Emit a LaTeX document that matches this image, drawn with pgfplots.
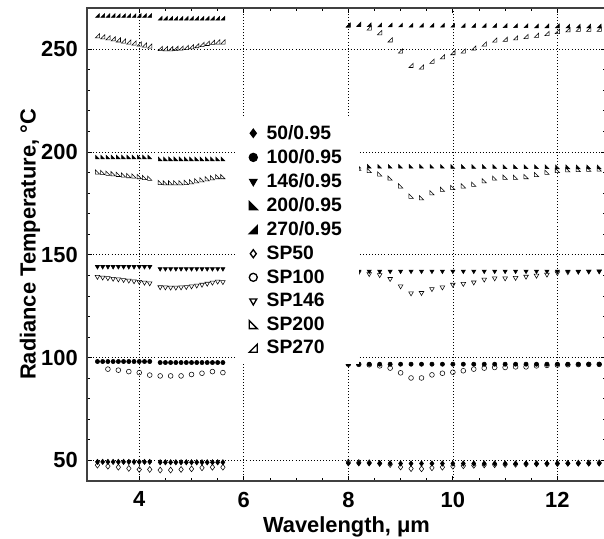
\documentclass[border=0pt]{standalone}
\usepackage{fontspec}
\setmainfont{Liberation Sans}
\usepackage{pgfplots}
\usepackage{pgfplotstable}
\pgfplotsset{compat=1.18}

\pgfdeclareplotmark{bl*}{%
 \pgfpathmoveto{\pgfqpoint{-\pgfplotmarksize}{-\pgfplotmarksize}}%
 \pgfpathlineto{\pgfqpoint{\pgfplotmarksize}{-\pgfplotmarksize}}%
 \pgfpathlineto{\pgfqpoint{-\pgfplotmarksize}{\pgfplotmarksize}}%
 \pgfpathclose\pgfusepathqfillstroke}
\pgfdeclareplotmark{bl}{%
 \pgfpathmoveto{\pgfqpoint{-\pgfplotmarksize}{-\pgfplotmarksize}}%
 \pgfpathlineto{\pgfqpoint{\pgfplotmarksize}{-\pgfplotmarksize}}%
 \pgfpathlineto{\pgfqpoint{-\pgfplotmarksize}{\pgfplotmarksize}}%
 \pgfpathclose\pgfusepathqstroke}
\pgfdeclareplotmark{br*}{%
 \pgfpathmoveto{\pgfqpoint{-\pgfplotmarksize}{-\pgfplotmarksize}}%
 \pgfpathlineto{\pgfqpoint{\pgfplotmarksize}{-\pgfplotmarksize}}%
 \pgfpathlineto{\pgfqpoint{\pgfplotmarksize}{\pgfplotmarksize}}%
 \pgfpathclose\pgfusepathqfillstroke}
\pgfdeclareplotmark{br}{%
 \pgfpathmoveto{\pgfqpoint{-\pgfplotmarksize}{-\pgfplotmarksize}}%
 \pgfpathlineto{\pgfqpoint{\pgfplotmarksize}{-\pgfplotmarksize}}%
 \pgfpathlineto{\pgfqpoint{\pgfplotmarksize}{\pgfplotmarksize}}%
 \pgfpathclose\pgfusepathqstroke}

% left region, 0.1 um step
\pgfplotstableread{
x   f50  f100  f146  f200  f270  s146  s200  s270
3.2 49.3 98.1 144.2 197.5 266.3 139.3 190.3 256.5
3.3 49.3 98.1 144.2 197.5 266.3 139.0 190.0 256.0
3.4 49.3 98.1 144.2 197.5 266.3 138.7 189.7 255.5
3.5 49.3 98.1 144.2 197.5 266.3 138.4 189.4 255.0
3.6 49.3 98.1 144.2 197.5 266.3 138.1 189.1 254.5
3.7 49.3 98.1 144.2 197.5 266.3 137.8 188.8 254.0
3.8 49.3 98.1 144.2 197.5 266.3 137.5 188.5 253.5
3.9 49.3 98.1 144.2 197.5 266.3 137.2 188.3 253.0
4.0 49.3 98.1 144.2 197.5 266.3 136.9 188.0 252.5
4.1 49.3 98.1 144.2 197.5 266.3 136.5 187.6 252.0
4.2 49.3 98.1 144.2 197.5 266.3 136.2 187.2 251.5
4.4 49.1 97.6 143.2 196.6 265.0 134.3 185.2 250.3
4.5 49.1 97.6 143.2 196.6 265.0 134.2 185.0 250.2
4.6 49.1 97.6 143.2 196.6 265.0 134.1 185.0 250.2
4.7 49.1 97.6 143.2 196.6 265.0 134.1 185.0 250.3
4.8 49.1 97.6 143.2 196.6 265.0 134.2 185.0 250.5
4.9 49.1 97.6 143.2 196.6 265.0 134.4 185.2 250.8
5.0 49.1 97.6 143.2 196.6 265.0 134.7 185.5 251.2
5.1 49.1 97.6 143.2 196.6 265.0 135.1 186.0 251.7
5.2 49.1 97.6 143.2 196.6 265.0 135.5 186.5 252.3
5.3 49.1 97.6 143.2 196.6 265.0 136.0 187.0 252.8
5.4 49.1 97.6 143.2 196.6 265.0 136.5 187.5 253.3
5.5 49.1 97.6 143.2 196.6 265.0 137.0 188.0 253.5
5.6 49.1 97.6 143.2 196.6 265.0 136.8 188.0 253.5
}\leftfine

% left region, 0.2 um step
\pgfplotstableread{
x   s50  s100
3.2 47.7 nan
3.4 47.2 94.4
3.6 46.7 93.9
3.8 46.1 93.2
4.0 45.6 92.7
4.2 45.6 91.5
4.4 45.3 91.1
4.6 45.3 91.1
4.8 45.6 91.1
5.0 45.9 91.8
5.2 46.4 92.4
5.4 46.7 93.2
5.6 46.7 92.7
}\leftcoarse

% right region
\pgfplotstableread{
x    f50  s50  f100 s100 f146  s146  f200  s200  f270  s270
8.0  48.6 49.2 96.8 96.8 142.0 142.0 193.0 193.0 261.8 261.6
8.2  48.6 49.0 96.8 96.7 142.0 141.5 193.0 192.1 261.8 262.1
8.4  48.6 48.9 96.8 96.5 142.0 140.7 193.0 191.0 261.8 260.3
8.6  48.6 48.5 96.8 96.0 142.0 140.2 193.0 189.3 261.7 258.0
8.8  48.6 48.0 96.8 94.9 142.0 138.3 193.0 187.3 261.7 254.5
9.0  48.5 46.8 96.8 92.6 142.0 134.7 193.0 183.5 261.7 249.1
9.2  48.5 46.0 96.8 90.1 142.0 131.3 193.0 178.5 261.6 242.1
9.4  48.5 45.9 96.8 90.1 142.0 131.5 193.0 177.7 261.6 241.3
9.6  48.5 46.4 96.8 91.6 142.0 133.4 193.0 180.2 261.6 244.1
9.8  48.5 46.7 96.8 92.4 142.0 134.2 193.0 181.9 261.6 246.3
10.0 48.5 47.2 96.8 92.9 142.0 135.5 192.9 182.7 261.6 248.3
10.2 48.5 47.4 96.8 93.6 142.0 135.9 192.9 183.5 261.5 249.1
10.4 48.5 47.6 96.8 94.4 142.0 136.6 192.9 184.3 261.5 250.5
10.6 48.5 47.8 96.8 94.9 142.0 138.0 192.9 186.0 261.5 252.5
10.8 48.5 47.9 96.8 95.2 142.0 138.6 192.9 187.3 261.5 254.4
11.0 48.5 48.0 96.8 95.2 142.0 138.6 192.8 187.7 261.4 254.8
11.2 48.5 48.1 96.8 95.5 142.0 138.8 192.8 187.7 261.4 255.5
11.4 48.5 48.2 96.8 95.5 142.0 139.4 192.8 188.0 261.4 256.1
11.6 48.5 48.3 96.8 96.0 142.0 139.9 192.8 189.0 261.3 256.7
11.8 48.5 48.4 96.8 96.2 142.0 140.4 192.8 190.1 261.3 257.6
12.0 48.5 48.5 96.8 96.4 142.0 141.2 192.7 191.0 261.3 258.6
12.2 48.5 48.6 96.8 96.5 142.0 141.6 192.7 191.3 261.2 259.4
12.4 48.5 48.7 96.8 96.6 142.0 141.8 192.7 191.5 261.2 259.7
12.6 48.5 48.8 96.8 96.7 142.0 141.9 192.7 191.6 261.2 259.7
12.8 48.5 48.9 96.8 96.7 142.0 142.0 192.7 191.7 261.2 259.7
}\rightdata

\begin{document}
\begin{tikzpicture}
\begin{axis}[
  scale only axis,
  width=389.25pt, height=354.75pt,
  xmin=3, xmax=12.93, ymin=40, ymax=270,
  xtick={4,6,8,10,12}, ytick={50,100,150,200,250},
  minor x tick num=3, minor y tick num=4,
  tick align=inside,
  major tick length=4pt, minor tick length=2.5pt,
  tick style={black, line width=0.6pt},
  axis line style={black!75, line width=0.9pt},
  grid=major,
  major grid style={black, line width=0.5pt, dash pattern=on 0.7pt off 1.6pt},
  /pgf/number format/assume math mode=true,
  tick label style={font=\bfseries\fontsize{16.4}{19}\selectfont},
  yticklabel style={inner sep=0pt, anchor=east, xshift=-6.75pt},
  xticklabel style={inner sep=0pt, anchor=north, yshift=-8pt},
  every axis x label/.style={at={(axis description cs:0.5,0)}, anchor=base, yshift=-39pt},
  every axis y label/.style={at={([xshift=-38.5pt]axis description cs:0,0.5)}, rotate=90, anchor=base},
  label style={font=\bfseries\fontsize{16.4}{19}\selectfont},
  xlabel={Wavelength, μm},
  ylabel={Radiance Temperature, °C},
  only marks,
  legend cell align=left,
  legend style={at={(axis description cs:0.2852,0.7696)}, anchor=north west,
    draw=none, fill=white, font=\bfseries\fontsize{14.5}{17}\selectfont,
    row sep=2.1pt, inner xsep=10.5pt, inner ysep=4pt,
    /tikz/every odd column/.append style={column sep=5pt}},
  legend image post style={mark size=3pt, line width=1pt},
]
% filled (emissivity 0.95)
\addplot[black, mark=diamond*, mark size=2pt] table[x=x,y=f50]{\leftfine};
\addlegendentry{50/0.95}
\addplot[black, mark=*, mark size=1.6pt] table[x=x,y=f100]{\leftfine};
\addlegendentry{100/0.95}
\addplot[black, mark=triangle*, mark size=1.8pt, mark options={rotate=180}] table[x=x,y=f146]{\leftfine};
\addlegendentry{146/0.95}
\addplot[black, mark=bl*, mark size=1.4pt] table[x=x,y=f200]{\leftfine};
\addlegendentry{200/0.95}
\addplot[black, mark=br*, mark size=1.4pt] table[x=x,y=f270]{\leftfine};
\addlegendentry{270/0.95}
% spectropyrometer
\addplot[black, mark=diamond, mark size=2.2pt, line width=0.4pt] table[x=x,y=s50]{\leftcoarse};
\addlegendentry{SP50}
\addplot[black, mark=o, mark size=1.8pt, line width=0.4pt] table[x=x,y=s100]{\leftcoarse};
\addlegendentry{SP100}
\addplot[black, mark=triangle, mark size=2pt, line width=0.4pt, mark options={rotate=180}] table[x=x,y=s146]{\leftfine};
\addlegendentry{SP146}
\addplot[black, mark=bl, mark size=1.6pt, line width=0.4pt] table[x=x,y=s200]{\leftfine};
\addlegendentry{SP200}
\addplot[black, mark=br, mark size=1.6pt, line width=0.4pt] table[x=x,y=s270]{\leftfine};
\addlegendentry{SP270}
% right region (same series)
\addplot[forget plot, black, mark=diamond*, mark size=2pt] table[x=x,y=f50]{\rightdata};
\addplot[forget plot, black, mark=*, mark size=1.6pt] table[x=x,y=f100]{\rightdata};
\addplot[forget plot, black, mark=triangle*, mark size=1.8pt, mark options={rotate=180}] table[x=x,y=f146]{\rightdata};
\addplot[forget plot, black, mark=bl*, mark size=1.4pt] table[x=x,y=f200]{\rightdata};
\addplot[forget plot, black, mark=br*, mark size=1.4pt] table[x=x,y=f270]{\rightdata};
\addplot[forget plot, black, mark=diamond, mark size=2.2pt, line width=0.4pt] table[x=x,y=s50]{\rightdata};
\addplot[forget plot, black, mark=o, mark size=1.8pt, line width=0.4pt] table[x=x,y=s100]{\rightdata};
\addplot[forget plot, black, mark=triangle, mark size=2pt, line width=0.4pt, mark options={rotate=180}] table[x=x,y=s146]{\rightdata};
\addplot[forget plot, black, mark=bl, mark size=1.6pt, line width=0.4pt] table[x=x,y=s200]{\rightdata};
\addplot[forget plot, black, mark=br, mark size=1.6pt, line width=0.4pt] table[x=x,y=s270]{\rightdata};
\end{axis}
\pgfresetboundingbox
\path ([shift={(-65.25pt,-43.5pt)}]current axis.south west) rectangle ([shift={(387.75pt,360.75pt)}]current axis.south west);
\end{tikzpicture}
\end{document}
